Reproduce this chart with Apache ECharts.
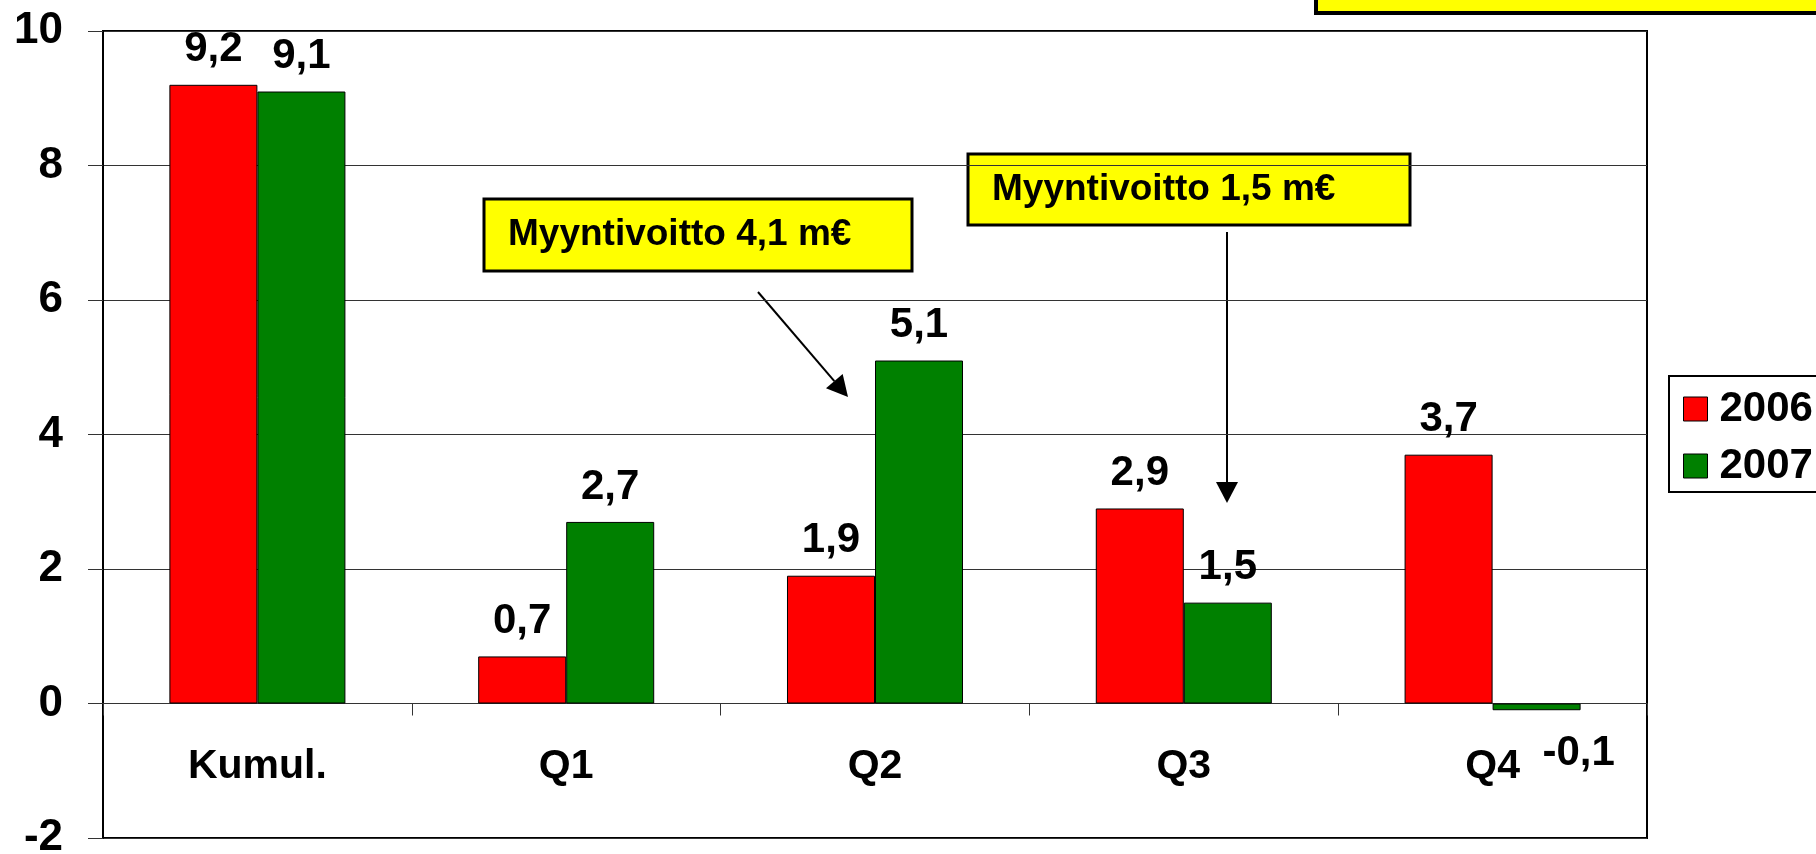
<!DOCTYPE html>
<html>
<head>
<meta charset="utf-8">
<script src="https://cdn.jsdelivr.net/npm/echarts@6/dist/echarts.min.js"></script>
<style>
  html, body { margin: 0; padding: 0; background: #fff; }
  #chart { width: 1816px; height: 854px; }
</style>
</head>
<body>
<div id="chart"></div>
<script>
var categories = ['Kumul.', 'Q1', 'Q2', 'Q3', 'Q4'];
var values2006 = [9.2, 0.7, 1.9, 2.9, 3.7];
var values2007 = [9.1, 2.7, 5.1, 1.5, -0.1];
var seriesNames = ['2006', '2007'];
var notes = ['Myyntivoitto 4,1 m€', 'Myyntivoitto 1,5 m€'];

var FONT = 'Liberation Sans, Arial, sans-serif';

function fmt(p) {
    return p.value.toFixed(1).replace('.', ',');
}

// 2007 data, the negative one gets its label below and to the right
var data2007 = values2007.map(function (v) {
    if (v < 0) {
        return {value: v, label: {position: 'bottom', distance: 22, offset: [42, 0]}};
    }
    return v;
});

// arrow = line + filled head
function arrow(x1, y1, x2, y2) {
    var dx = x2 - x1, dy = y2 - y1;
    var len = Math.sqrt(dx * dx + dy * dy);
    var ux = dx / len, uy = dy / len;
    var hl = 21, hw = 11;
    var bx = x2 - ux * hl, by = y2 - uy * hl;
    return [{
        type: 'line',
        shape: {x1: x1, y1: y1, x2: bx, y2: by},
        style: {stroke: '#000', lineWidth: 2}
    }, {
        type: 'polygon',
        shape: {points: [[x2, y2], [bx - uy * hw, by + ux * hw], [bx + uy * hw, by - ux * hw]]},
        style: {fill: '#000'}
    }];
}

function noteBox(x, y, w, h, text) {
    return {
        type: 'group',
        children: [{
            type: 'rect',
            shape: {x: x, y: y, width: w, height: h},
            style: {fill: '#ffff00', stroke: '#000', lineWidth: 3}
        }, {
            type: 'text',
            x: x + 24, y: y + h / 2,
            style: {text: text, font: 'bold 37px ' + FONT, fill: '#000', verticalAlign: 'middle'}
        }]
    };
}

var chart = echarts.init(document.getElementById('chart'));

var graphics = [
    {
        type: 'rect',
        shape: {x: 1316, y: -60, width: 600, height: 73},
        style: {fill: '#ffff00', stroke: '#000', lineWidth: 4}
    },
    noteBox(484, 199, 428, 72, notes[0]),
    noteBox(968, 154, 442, 71, notes[1])
].concat(arrow(758, 292, 848, 397)).concat(arrow(1227, 232, 1227, 503));

chart.setOption({
    animation: false,
    backgroundColor: '#fff',
    grid: {
        left: 103, top: 31, right: 169, bottom: 16,
        containLabel: false,
        outerBoundsMode: 'none',
        show: true, borderColor: '#000', borderWidth: 2
    },
    legend: {
        data: seriesNames,
        orient: 'vertical',
        left: 1669, top: 376,
        padding: [12, 20, 5, 14],
        itemGap: 15,
        itemWidth: 24, itemHeight: 24,
        icon: 'rect',
        borderColor: '#000', borderWidth: 2,
        itemStyle: {borderColor: '#000', borderWidth: 1},
        textStyle: {fontSize: 42, lineHeight: 42, fontWeight: 'bold', color: '#000', fontFamily: FONT, padding: [0, 0, 0, 7]}
    },
    xAxis: {
        type: 'category',
        data: categories,
        axisLine: {onZero: true, lineStyle: {color: '#333', width: 1}},
        axisTick: {show: true, length: 12, lineStyle: {color: '#333'}},
        // labels sit at the grid bottom, pull them up under the zero line
        axisLabel: {margin: -92, fontSize: 41, fontWeight: 'bold', color: '#000', fontFamily: FONT},
        splitLine: {show: false}
    },
    yAxis: {
        type: 'value',
        min: -2, max: 10, interval: 2,
        axisLine: {show: true, lineStyle: {color: '#000', width: 2}},
        axisTick: {show: true, length: 15, lineStyle: {color: '#333'}},
        axisLabel: {margin: 40, fontSize: 44, fontWeight: 'bold', color: '#000', fontFamily: FONT},
        splitLine: {show: true, lineStyle: {color: '#333', width: 1}}
    },
    series: [{
        name: seriesNames[0],
        type: 'bar',
        data: values2006,
        barGap: '0%',
        barCategoryGap: '43%',
        itemStyle: {color: '#ff0000', borderColor: '#000', borderWidth: 1},
        label: {show: true, position: 'top', distance: 14, formatter: fmt,
                fontSize: 42, fontWeight: 'bold', color: '#000', fontFamily: FONT}
    }, {
        name: seriesNames[1],
        type: 'bar',
        data: data2007,
        itemStyle: {color: '#008000', borderColor: '#000', borderWidth: 1},
        label: {show: true, position: 'top', distance: 14, formatter: fmt,
                fontSize: 42, fontWeight: 'bold', color: '#000', fontFamily: FONT}
    }],
    graphic: graphics
});
</script>
</body>
</html>
